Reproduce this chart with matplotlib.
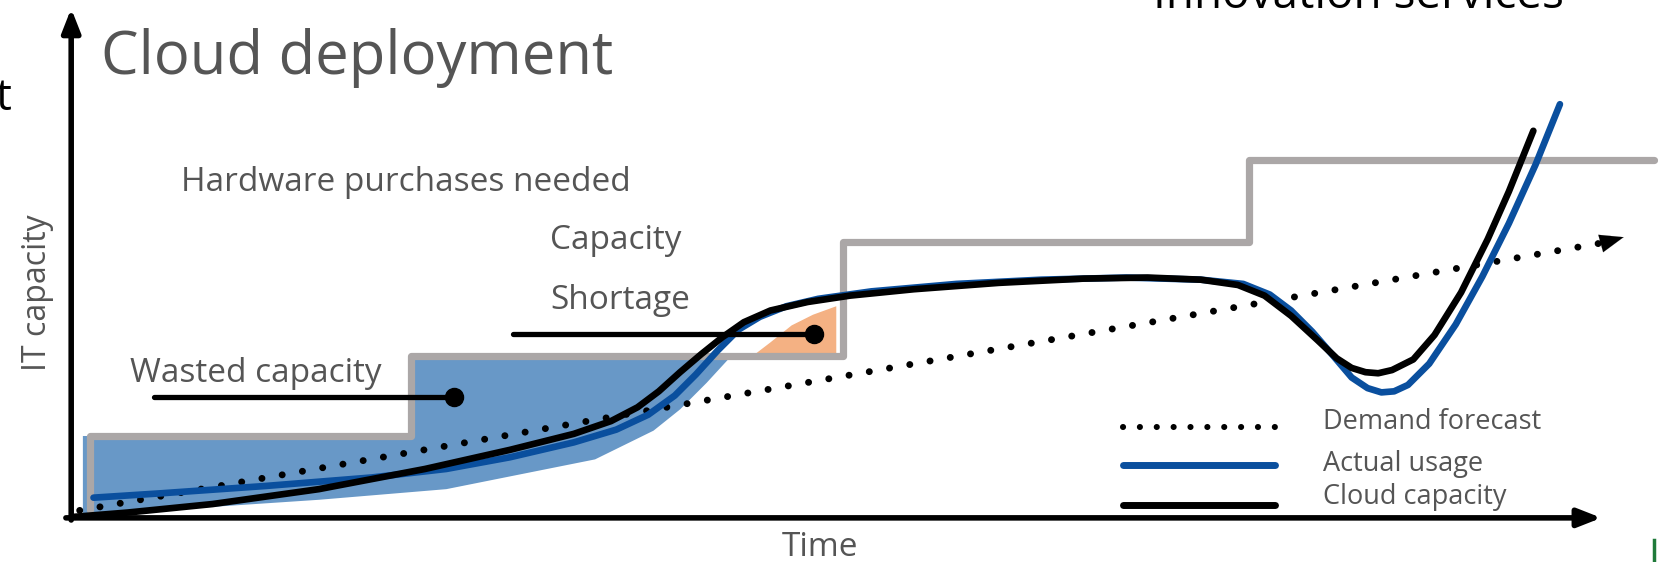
import numpy as np
import matplotlib
matplotlib.use('Agg')
import matplotlib.pyplot as plt

# ----------------------------------------------------------------------------
# Data (picture coordinates, y grows downward)
# ----------------------------------------------------------------------------

step_x = [85, 85, 387, 387, 793, 793, 1175, 1175, 1557]
step_y = [480, 410, 410, 335, 335, 228, 228, 150, 150]

usage_x = [88, 150, 250, 350, 420, 480, 540, 580, 610, 635, 655, 675, 695,
           715, 740, 770, 820, 900, 980, 1060, 1130, 1170, 1195, 1215, 1235,
           1255, 1272, 1287, 1300, 1312, 1325, 1345, 1370, 1395, 1420, 1445,
           1468]
usage_y = [468, 464, 457, 449, 441, 430, 416, 404, 390, 372, 352, 330, 310,
           298, 288, 281, 274, 267, 263, 261, 263, 267, 277, 292, 312,
           335, 355, 365, 369, 368, 362, 342, 305, 260, 210, 155, 98]

cloud_x = [70, 120, 200, 300, 400, 480, 540, 575, 600, 620, 640, 660, 680,
           700, 725, 760, 800, 860, 940, 1020, 1080, 1130, 1165, 1190, 1215,
           1240, 1258, 1272, 1285, 1297, 1310, 1330, 1350, 1375, 1400, 1420,
           1443]
cloud_y = [486, 482, 474, 460, 441, 423, 408, 396, 383, 368, 350, 333, 317,
           303, 292, 284, 278, 272, 266, 262, 261, 263, 268, 278, 297,
           320, 337, 346, 350, 351, 348, 338, 315, 275, 225, 180, 123]

forecast_x = [75, 1510]
forecast_y = [480, 228]

wasted_x = [78, 387, 387, 688, 665, 640, 615, 560, 420, 300, 150, 78]
wasted_y = [410, 410, 335, 335, 360, 385, 405, 432, 460, 470, 480, 485]

short_x = [708, 725, 745, 765, 787, 787]
short_y = [335, 322, 306, 296, 288, 335]

legend_labels = ['Demand forecast', 'Actual usage', 'Cloud capacity']

GRAY = '#aba7a7'
BLUE = '#0a4f9e'
FILL = '#6898c7'
ORANGE = '#f4b183'
TXT = '#555555'

plt.rcParams['font.family'] = ['Open Sans', 'DejaVu Sans']

fig = plt.figure(figsize=(16.63, 5.62), dpi=100)
ax = fig.add_axes([0, 0, 1, 1])
ax.set_xlim(0, 1565)
ax.set_ylim(528.5, 0)
ax.axis('off')

# ----------------------------------------------------------------------------
# Areas and curves
# ----------------------------------------------------------------------------

ax.fill(wasted_x, wasted_y, color=FILL, lw=0, zorder=1)
ax.fill(short_x, short_y, color=ORANGE, lw=0, zorder=1)
ax.plot(step_x, step_y, color=GRAY, lw=5.2, solid_joinstyle='round',
        solid_capstyle='round', zorder=2)
ax.plot(forecast_x, forecast_y, color='k', lw=5, linestyle=(0, (0.01, 2.95)),
        dash_capstyle='round', zorder=3)
ax.annotate('', xy=(1528, 223), xytext=(forecast_x[1], forecast_y[1]),
            arrowprops=dict(arrowstyle='-|>,head_length=1.7,head_width=0.65',
                            color='k', lw=0.1, shrinkA=0, shrinkB=0))
ax.plot(usage_x, usage_y, color=BLUE, lw=4.8, solid_capstyle='round',
        solid_joinstyle='round', zorder=4)
ax.plot(cloud_x, cloud_y, color='k', lw=4.8, solid_capstyle='round',
        solid_joinstyle='round', zorder=5)

# pointers
ax.plot([145, 427], [373, 373], color='k', lw=3.8, solid_capstyle='round', zorder=6)
ax.plot([427], [373], 'ko', ms=13, zorder=6)
ax.plot([483, 766], [314, 314], color='k', lw=3.8, solid_capstyle='round', zorder=6)
ax.plot([766], [314], 'ko', ms=13, zorder=6)

# axes arrows
ax.annotate('', xy=(67, 8), xytext=(67, 489),
            arrowprops=dict(arrowstyle='-|>,head_length=1.4,head_width=0.55',
                            color='k', lw=4, shrinkA=0, shrinkB=0))
ax.annotate('', xy=(1507, 487), xytext=(62, 487),
            arrowprops=dict(arrowstyle='-|>,head_length=1.4,head_width=0.55',
                            color='k', lw=4, shrinkA=0, shrinkB=0))

# legend
ax.plot([1057, 1200], [402, 402], color='k', lw=4.4, linestyle=(0, (0.01, 2.75)),
        dash_capstyle='round')
ax.plot([1057, 1200], [437, 437], color=BLUE, lw=5, solid_capstyle='round')
ax.plot([1057, 1200], [475, 475], color='k', lw=5, solid_capstyle='round')
for lab, yy in zip(legend_labels, [397, 436, 467]):
    ax.text(1245, yy, lab, fontsize=19.5, color=TXT, va='center', ha='left')

# ----------------------------------------------------------------------------
# Texts
# ----------------------------------------------------------------------------

ax.text(95, 55, 'Cloud deployment', fontsize=43, color=TXT, va='center')
ax.text(-4, 93, 't', fontsize=32, color='k', va='center')
ax.text(1278, -4, 'Innovation services', fontsize=33, color='k', va='center',
        ha='center')
ax.text(170, 172, 'Hardware purchases needed', fontsize=24, color=TXT,
        va='center')
ax.text(518, 226, 'Capacity', fontsize=24, color=TXT, va='center')
ax.text(518, 283, 'Shortage', fontsize=24, color=TXT, va='center')
ax.text(122, 351, 'Wasted capacity', fontsize=24, color=TXT, va='center')
ax.text(35, 275, 'IT capacity', fontsize=23, color=TXT, va='center',
        ha='center', rotation=90)
ax.text(772, 515, 'Time', fontsize=24, color=TXT, va='center', ha='center')
ax.plot([1557, 1557], [508, 530], color='#1f7a3a', lw=2.5)

fig.savefig('out.png', dpi=100)
